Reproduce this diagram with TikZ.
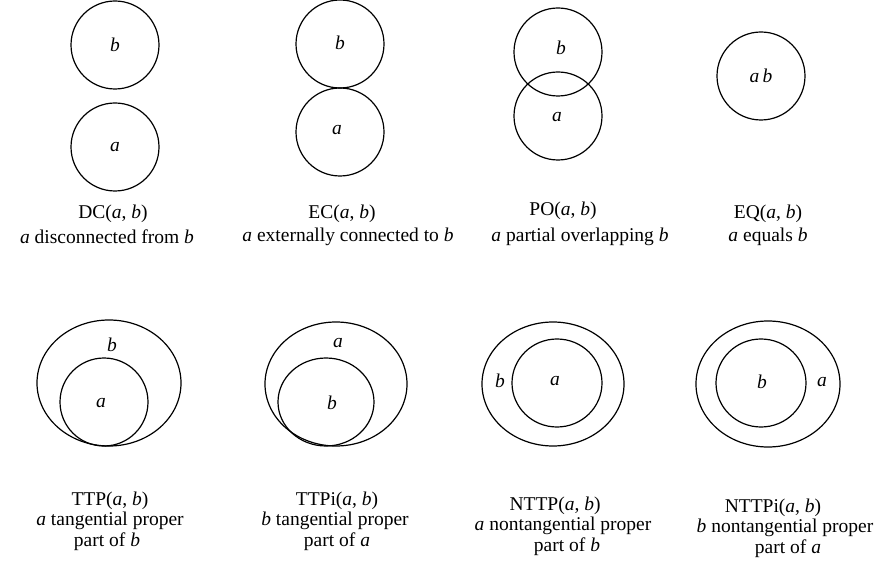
\documentclass[tikz,border=0pt]{standalone}
\usepackage{fontspec}
\setmainfont{Liberation Serif}
\begin{document}
\begin{tikzpicture}[x=1pt,y=-1pt,line width=1.2pt,
	txt/.style={font=\fontsize{19.5}{23}\selectfont,inner sep=0pt},
	var/.style={font=\fontsize{19.5}{23}\selectfont\itshape,inner sep=0pt}]
	\useasboundingbox (0,0) rectangle (881,577);
	% DC
	\draw (115,45) circle (44);
	\draw (115,147) circle (44);
	\node[var] (dcb) at (115,45) {b};
	\node[var] (dca) at (115,147) {a};
	\node[txt] (dcname) at (113,214) {DC(\textit{a}, \textit{b})};
	\node[txt] (dctext) at (107,237) {\textit{a} disconnected from \textit{b}};
	% EC
	\draw (340,44) circle (44);
	\draw (340,132) circle (44);
	\node[var] (ecb) at (340,43) {b};
	\node[var] (eca) at (337,130) {a};
	\node[txt] (ecname) at (342,214) {EC(\textit{a}, \textit{b})};
	\node[txt] (ectext) at (348,237) {\textit{a} externally connected to \textit{b}};
	% PO
	\draw (558,52) circle (44);
	\draw (558,116) circle (44);
	\node[var] (pob) at (561,48) {b};
	\node[var] (poa) at (557,117) {a};
	\node[txt] (poname) at (563,211) {PO(\textit{a}, \textit{b})};
	\node[txt] (potext) at (580,237) {\textit{a} partial overlapping \textit{b}};
	% EQ
	\draw (761,76) circle (44);
	\node[var] (eqab) at (761,76) {a\,b};
	\node[txt] (eqname) at (768,214) {EQ(\textit{a}, \textit{b})};
	\node[txt] (eqtext) at (768,237) {\textit{a} equals \textit{b}};
	% TTP
	\draw (109,383) ellipse [x radius=72, y radius=63];
	\draw (104,402) circle (44);
	\node[var] (ttpb) at (112,345) {b};
	\node[var] (ttpa) at (101,403) {a};
	\node[txt] (ttpname) at (110,501) {TTP(\textit{a}, \textit{b})};
	\node[txt] (ttptext) at (110,521) {\textit{a} tangential proper};
	\node[txt] (ttppart) at (107,542) {part of \textit{b}};
	% TTPi
	\draw (336,384) ellipse [x radius=71, y radius=62];
	\draw (326,402) ellipse [x radius=48, y radius=44];
	\node[var] (ttpia) at (338,343) {a};
	\node[var] (ttpib) at (332,403) {b};
	\node[txt] (ttpiname) at (337,501) {TTPi(\textit{a}, \textit{b})};
	\node[txt] (ttpitext) at (335,521) {\textit{b} tangential proper};
	\node[txt] (ttpipart) at (337,542) {part of \textit{a}};
	% NTTP
	\draw (553,384) ellipse [x radius=71, y radius=62];
	\draw (557,383) ellipse [x radius=45, y radius=44];
	\node[var] (nttpb) at (500,381) {b};
	\node[var] (nttpa) at (555,381) {a};
	\node[txt] (nttpname) at (555,506) {NTTP(\textit{a}, \textit{b})};
	\node[txt] (nttptext) at (563,526) {\textit{a} nontangential proper};
	\node[txt] (nttppart) at (567,547) {part of \textit{b}};
	% NTTPi
	\draw (768,384) ellipse [x radius=72, y radius=63];
	\draw (761,383) ellipse [x radius=45, y radius=44];
	\node[var] (nttpib) at (762,382) {b};
	\node[var] (nttpia) at (822,382) {a};
	\node[txt] (nttpiname) at (773,508) {NTTPi(\textit{a}, \textit{b})};
	\node[txt] (nttpitext) at (785,528) {\textit{b} nontangential proper};
	\node[txt] (nttpipart) at (788,549) {part of \textit{a}};
\end{tikzpicture}
\end{document}
